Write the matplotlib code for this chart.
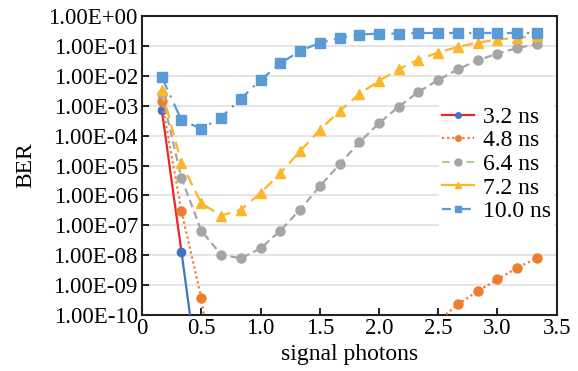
import numpy as np
import matplotlib
matplotlib.use("Agg")
import matplotlib.pyplot as plt
from matplotlib.lines import Line2D
from matplotlib.ticker import FixedLocator, FuncFormatter, NullLocator

plt.rcParams['font.family'] = ['Liberation Serif', 'DejaVu Serif']

x = [0.167, 0.333, 0.5, 0.667, 0.833, 1.0, 1.167, 1.333, 1.5, 1.667,
     1.833, 2.0, 2.167, 2.333, 2.5, 2.667, 2.833, 3.0, 3.167, 3.333]
nan = np.nan
ber_3_2 = [7.2e-4, 1.3e-8, 1.6e-13] + [nan] * 17
ber_4_8 = [1.45e-3, 2.95e-7, 3.8e-10, 2.5e-14] + [nan] * 10 + \
          [6.3e-11, 2.3e-10, 6.3e-10, 1.55e-9, 3.8e-9, 8.1e-9]
ber_6_4 = [2.5e-3, 3.8e-6, 6.6e-8, 1.05e-8, 7.8e-9, 1.7e-8, 6.6e-8, 3.3e-7, 2.0e-6, 1.1e-5,
           5.9e-5, 2.6e-4, 9.3e-4, 2.9e-3, 7.2e-3, 1.66e-2, 3.3e-2, 5.5e-2, 8.5e-2, 0.115]
ber_7_2 = [3.3e-3, 1.2e-5, 5.5e-7, 2.1e-7, 3.3e-7, 1.2e-6, 5.5e-6, 3.0e-5, 1.55e-4, 6.6e-4,
           2.45e-3, 6.8e-3, 1.66e-2, 3.5e-2, 6.0e-2, 9.3e-2, 0.129, 0.162, 0.19, 0.21]
ber_10 = [8.9e-3, 3.3e-4, 1.7e-4, 4.0e-4, 1.7e-3, 7.2e-3, 2.6e-2, 6.8e-2, 0.126, 0.186,
          0.24, 0.257, 0.257, 0.27, 0.27, 0.27, 0.27, 0.27, 0.27, 0.27]
labels = ["3.2 ns", "4.8 ns", "6.4 ns", "7.2 ns", "10.0 ns"]
xticks = [0, 0.5, 1.0, 1.5, 2.0, 2.5, 3.0, 3.5]
xticklabels = ["0", "0.5", "1.0", "1.5", "2.0", "2.5", "3.0", "3.5"]
yticks = [1e-10, 1e-9, 1e-8, 1e-7, 1e-6, 1e-5, 1e-4, 1e-3, 1e-2, 1e-1, 1e0]

c_red = '#E8262B'
c_blue_d = '#4472C4'
c_orange = '#ED7D31'
c_gray = '#A5A5A5'
c_green = '#A9D18E'
c_yellow = '#FDB52A'
c_blue = '#5B9BD5'

fig = plt.figure(figsize=(5.78, 3.71), dpi=100)
ax = fig.add_axes([0.2457, 0.1509, 0.9632 - 0.2457, 0.9569 - 0.1509])
ax.set_yscale('log')

# 3.2 ns: red first segment, blue after
ax.plot(x[:2], ber_3_2[:2], color=c_red, lw=1.6, zorder=3)
ax.plot(x[1:], ber_3_2[1:], color=c_blue_d, lw=1.6, zorder=3)
ax.plot(x, ber_3_2, ls='none', marker='o', ms=6, color=c_blue_d, zorder=4)
ax.plot(x, ber_4_8, color=c_orange, ls=(0, (1, 1.3)), lw=1.6, marker='o', ms=6.5, zorder=5)
ax.plot(x, ber_6_4, color=c_gray, ls=(0, (3.5, 2)), lw=1.6, marker='o', ms=6.5, zorder=6)
ax.plot(x, ber_7_2, color=c_yellow, ls=(0, (5, 3)), lw=1.6, marker='^', ms=7.5, zorder=7)
ax.plot(x, ber_10, color=c_blue, ls=(0, (6, 3, 1, 3)), lw=1.6, marker='s', ms=6.5, zorder=8)

ax.set_xlim(0, 3.5)
ax.set_ylim(1e-10, 1e0)
ax.xaxis.set_major_locator(FixedLocator(xticks))
ax.set_xticklabels(xticklabels)
ax.yaxis.set_major_locator(FixedLocator(yticks))
ax.yaxis.set_minor_locator(NullLocator())
ax.yaxis.set_major_formatter(FuncFormatter(lambda v, p: f"{v:.2E}"))
ax.tick_params(direction='in', length=5, width=1.2, labelsize=16.5, pad=3)
ax.tick_params(axis='x', pad=2)
ax.grid(axis='y', color='#E3E3E3', lw=1.3, zorder=0)
ax.set_axisbelow(True)
for s in ax.spines.values():
    s.set_linewidth(1.5)
    s.set_color('#222222')

ax.set_xlabel("signal photons", fontsize=17, labelpad=4)
ax.set_ylabel("BER", fontsize=17, labelpad=9)

handles = [
    Line2D([], [], color=c_red, lw=1.6, marker='o', ms=4, mfc=c_blue_d, mec=c_blue_d),
    Line2D([], [], color=c_orange, lw=1.6, ls=(0, (1, 1.3)), marker='o', ms=4),
    Line2D([], [], color=c_green, lw=1.6, ls=(0, (3.5, 2)), marker='o', ms=5, mfc=c_gray, mec=c_gray),
    Line2D([], [], color=c_yellow, lw=1.6, marker='^', ms=5),
    Line2D([], [], color=c_blue, lw=1.6, ls=(0, (4, 2, 1, 2)), marker='s', ms=4.5),
]
leg = ax.legend(handles, labels, loc='upper left', bbox_to_anchor=(0.716, 0.71),
                fontsize=17, frameon=True, facecolor='white', edgecolor='none',
                framealpha=1, fancybox=False, handlelength=1.35, handletextpad=0.35,
                labelspacing=0.09, borderpad=0.15, borderaxespad=0)
leg.set_zorder(20)

fig.savefig("out.png", dpi=100)
